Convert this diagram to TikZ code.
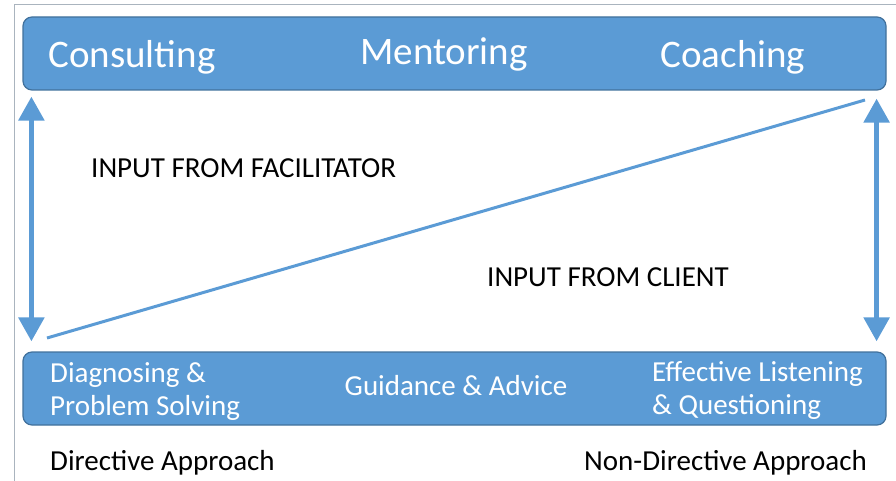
\documentclass[tikz,border=0pt]{standalone}
\usepackage{fontspec}
\setmainfont{Carlito}
\usetikzlibrary{arrows.meta}

\definecolor{barblue}{RGB}{91,155,213}
\definecolor{barline}{RGB}{65,113,156}
\definecolor{framegrey}{RGB}{170,180,190}

\tikzset{
  bar/.style={draw=barline, fill=barblue, line width=1.2pt, rounded corners=9pt,
    minimum width=863pt, minimum height=73pt, inner sep=0pt},
  bartext/.style={text=white, inner sep=0pt, anchor=base, font=\fontsize{39}{44}\selectfont},
  subtext/.style={text=white, inner sep=0pt, align=left, font=\fontsize{29}{33}\selectfont},
  plain/.style={text=black, inner sep=0pt, font=\fontsize{29}{34}\selectfont},
  dblarrow/.style={draw=barblue, line width=5.5pt,
    {Triangle[width=25pt,length=24pt]}-{Triangle[width=25pt,length=24pt]}},
}

\begin{document}
\begin{tikzpicture}[x=1pt, y=-1pt]

\useasboundingbox (0,0) rectangle (896,481);
\draw[framegrey, line width=1pt] (14,481) -- (14,5) -- (896,5);

% the two bars
\node[bar] (top) at (454.5,53.5) {};
\node[bar] (bottom) at (454.5,388.5) {};

\node[bartext] (consult) at (132,68) {Consulting};
\node[bartext] (mentor) at (444,65) {Mentoring};
\node[bartext] (coach) at (733,68) {Coaching};

% base anchor sits on the last line
\node[subtext, anchor=base west] (diag) at (50,415) {Diagnosing \&\\Problem Solving};
\node[subtext, anchor=base] (guide) at (456,395) {Guidance \& Advice};
\node[subtext, anchor=base west] (listen) at (652,414) {Effective Listening\\\& Questioning};

% labels between the bars
\node[plain, anchor=base west] (facil) at (91,178) {INPUT FROM FACILITATOR};
\node[plain, anchor=base west] (client) at (487,286) {INPUT FROM CLIENT};

\node[plain, anchor=base west] (direct) at (50,470) {Directive Approach};
\node[plain, anchor=base east] (nondirect) at (867,470) {Non-Directive Approach};

% arrows and slope
\draw[dblarrow, shorten <=6pt, shorten >=10pt]
  ([xshift=9pt]top.south west) -- ([xshift=9pt]bottom.north west);
\draw[dblarrow, shorten <=8pt, shorten >=10pt]
  ([xshift=-10pt]top.south east) -- ([xshift=-10pt]bottom.north east);

\coordinate (low) at (47,338);
\coordinate (high) at (865,100);
\draw[barblue, line width=3pt] (low) -- (high);

\end{tikzpicture}
\end{document}
